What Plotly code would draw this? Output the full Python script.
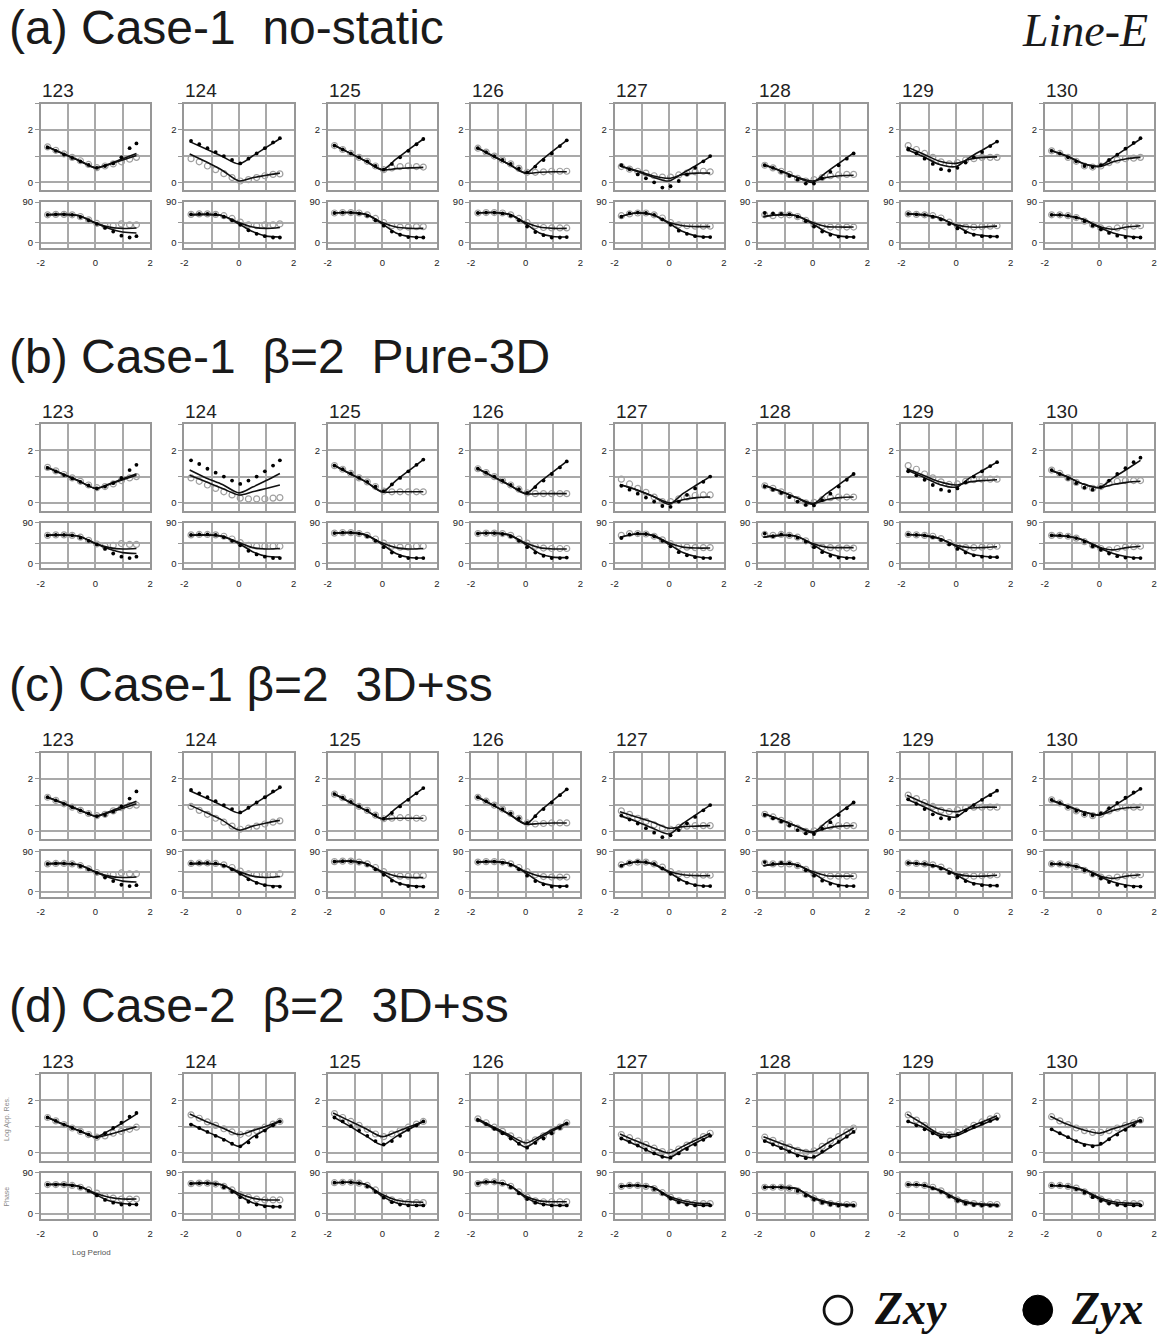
import plotly.graph_objects as go

W, H = 1165, 1336

STATIONS = ["123", "124", "125", "126", "127", "128", "129", "130"]
LOG_T_OBS = [-1.75, -1.45, -1.15, -0.85, -0.55, -0.25, 0.05, 0.35, 0.65, 0.95, 1.25, 1.5]
LOG_T_MOD = [-1.8, -1.2, -0.6, 0.0, 0.5, 1.0, 1.5]

PANEL_TITLES = [
    "(a) Case-1&nbsp; no-static",
    "(b) Case-1&nbsp; β=2&nbsp; Pure-3D",
    "(c) Case-1 β=2&nbsp; 3D+ss",
    "(d) Case-2&nbsp; β=2&nbsp; 3D+ss",
]

# ---------------- Panel (a) ----------------
A_RXY_OBS = [
    [1.35, 1.22, 1.08, 0.95, 0.82, 0.68, 0.56, 0.62, 0.70, 0.78, 0.88, 0.95],
    [0.90, 0.78, 0.62, 0.48, 0.33, 0.18, 0.05, 0.10, 0.18, 0.25, 0.30, 0.32],
    [1.40, 1.25, 1.10, 0.95, 0.80, 0.62, 0.48, 0.55, 0.60, 0.62, 0.60, 0.58],
    [1.30, 1.15, 1.00, 0.85, 0.70, 0.53, 0.38, 0.38, 0.40, 0.42, 0.42, 0.42],
    [0.60, 0.50, 0.42, 0.35, 0.25, 0.20, 0.20, 0.28, 0.35, 0.40, 0.42, 0.40],
    [0.65, 0.55, 0.42, 0.30, 0.15, 0.05, 0.10, 0.18, 0.25, 0.28, 0.30, 0.30],
    [1.40, 1.25, 1.10, 0.95, 0.78, 0.70, 0.75, 0.85, 0.90, 0.95, 0.95, 0.95],
    [1.20, 1.10, 0.95, 0.80, 0.62, 0.58, 0.62, 0.75, 0.85, 0.90, 0.92, 0.95],
]
A_RYX_OBS = [
    [1.33, 1.20, 1.06, 0.93, 0.80, 0.66, 0.55, 0.62, 0.72, 0.95, 1.30, 1.48],
    [1.58, 1.45, 1.30, 1.15, 1.00, 0.85, 0.72, 0.90, 1.10, 1.30, 1.52, 1.68],
    [1.40, 1.25, 1.10, 0.95, 0.80, 0.62, 0.48, 0.70, 0.95, 1.20, 1.45, 1.65],
    [1.30, 1.15, 1.00, 0.85, 0.70, 0.53, 0.38, 0.60, 0.85, 1.10, 1.38, 1.60],
    [0.65, 0.50, 0.30, 0.15, 0.00, -0.20, -0.15, 0.05, 0.30, 0.55, 0.80, 1.00],
    [0.65, 0.55, 0.40, 0.25, 0.10, -0.05, -0.05, 0.15, 0.40, 0.65, 0.90, 1.10],
    [1.25, 1.10, 0.90, 0.70, 0.50, 0.45, 0.55, 0.75, 0.95, 1.15, 1.38, 1.55],
    [1.20, 1.10, 0.95, 0.80, 0.62, 0.58, 0.65, 0.85, 1.05, 1.28, 1.50, 1.68],
]
A_RXY_MOD = [
    [1.37, 1.10, 0.83, 0.55, 0.68, 0.85, 1.02],
    [1.08, 0.78, 0.45, 0.05, 0.17, 0.27, 0.35],
    [1.43, 1.12, 0.80, 0.48, 0.52, 0.55, 0.57],
    [1.33, 1.00, 0.68, 0.35, 0.38, 0.40, 0.40],
    [0.62, 0.45, 0.25, 0.15, 0.30, 0.35, 0.35],
    [0.68, 0.45, 0.20, 0.05, 0.18, 0.25, 0.27],
    [1.35, 1.08, 0.80, 0.72, 0.88, 0.95, 0.97],
    [1.22, 1.00, 0.72, 0.60, 0.78, 0.90, 0.95],
]
A_RYX_MOD = [
    [1.37, 1.10, 0.83, 0.55, 0.70, 0.90, 1.10],
    [1.55, 1.27, 0.98, 0.70, 1.00, 1.33, 1.66],
    [1.43, 1.12, 0.80, 0.48, 0.88, 1.27, 1.65],
    [1.33, 1.00, 0.68, 0.35, 0.78, 1.20, 1.60],
    [0.62, 0.42, 0.20, 0.05, 0.35, 0.65, 0.98],
    [0.68, 0.45, 0.20, 0.00, 0.38, 0.75, 1.12],
    [1.25, 0.98, 0.68, 0.60, 0.95, 1.25, 1.55],
    [1.22, 1.00, 0.72, 0.62, 0.95, 1.30, 1.65],
]
A_PXY_OBS = [
    [62, 63, 63, 62, 58, 51, 43, 38, 38, 42, 40, 40],
    [63, 64, 64, 63, 60, 54, 46, 40, 38, 40, 40, 42],
    [66, 67, 67, 66, 62, 54, 45, 38, 35, 35, 36, 36],
    [66, 67, 67, 66, 62, 54, 45, 38, 34, 33, 33, 33],
    [60, 64, 66, 66, 62, 55, 45, 40, 38, 37, 37, 37],
    [62, 60, 62, 62, 58, 50, 40, 37, 35, 35, 35, 35],
    [64, 63, 62, 60, 55, 46, 38, 35, 35, 36, 37, 38],
    [62, 62, 60, 56, 48, 40, 33, 30, 33, 36, 37, 38],
]
A_PYX_OBS = [
    [62, 63, 63, 62, 57, 50, 42, 33, 25, 16, 12, 15],
    [63, 64, 64, 63, 58, 50, 40, 28, 20, 15, 12, 12],
    [66, 67, 67, 65, 60, 50, 38, 25, 18, 13, 12, 12],
    [66, 67, 67, 65, 60, 50, 36, 24, 17, 12, 12, 13],
    [58, 65, 67, 66, 62, 52, 40, 27, 20, 15, 13, 13],
    [66, 65, 64, 63, 58, 48, 36, 25, 18, 14, 13, 13],
    [64, 63, 62, 58, 52, 42, 32, 24, 18, 15, 14, 14],
    [62, 62, 60, 56, 48, 38, 30, 22, 16, 13, 12, 12],
]
A_PXY_MOD = [
    [62, 63, 60, 44, 35, 32, 33],
    [62, 63, 60, 45, 35, 32, 34],
    [66, 67, 63, 45, 35, 32, 32],
    [66, 67, 63, 45, 35, 32, 32],
    [58, 66, 62, 45, 38, 36, 36],
    [58, 62, 60, 45, 36, 35, 35],
    [64, 62, 55, 40, 35, 35, 37],
    [62, 60, 52, 36, 30, 35, 38],
]
A_PYX_MOD = [
    [62, 63, 60, 44, 32, 24, 22],
    [62, 63, 60, 42, 25, 15, 13],
    [66, 67, 63, 42, 22, 14, 12],
    [66, 67, 63, 42, 22, 14, 13],
    [58, 66, 62, 43, 25, 15, 13],
    [58, 62, 60, 42, 24, 15, 13],
    [64, 62, 55, 38, 22, 16, 14],
    [62, 60, 52, 34, 22, 15, 12],
]

# ---------------- Panel (b) ----------------
B_RXY_OBS = [
    [1.35, 1.22, 1.08, 0.95, 0.82, 0.68, 0.58, 0.62, 0.72, 0.85, 0.95, 1.00],
    [0.95, 0.82, 0.68, 0.55, 0.42, 0.30, 0.18, 0.15, 0.15, 0.15, 0.18, 0.20],
    [1.42, 1.28, 1.12, 0.95, 0.80, 0.62, 0.45, 0.42, 0.42, 0.42, 0.42, 0.42],
    [1.30, 1.15, 1.00, 0.85, 0.68, 0.52, 0.38, 0.35, 0.35, 0.35, 0.35, 0.35],
    [0.90, 0.72, 0.55, 0.40, 0.22, 0.05, 0.05, 0.15, 0.22, 0.28, 0.30, 0.30],
    [0.65, 0.55, 0.42, 0.28, 0.12, 0.00, 0.02, 0.12, 0.20, 0.22, 0.22, 0.22],
    [1.42, 1.28, 1.10, 0.95, 0.80, 0.70, 0.72, 0.82, 0.88, 0.90, 0.90, 0.90],
    [1.25, 1.12, 0.95, 0.78, 0.62, 0.55, 0.62, 0.75, 0.82, 0.85, 0.85, 0.85],
]
B_RYX_OBS = [
    [1.33, 1.20, 1.06, 0.93, 0.80, 0.66, 0.55, 0.62, 0.75, 0.95, 1.25, 1.45],
    [1.62, 1.48, 1.30, 1.15, 1.00, 0.85, 0.72, 0.85, 1.00, 1.20, 1.42, 1.62],
    [1.42, 1.28, 1.12, 0.95, 0.80, 0.62, 0.45, 0.70, 0.95, 1.20, 1.45, 1.65],
    [1.30, 1.15, 1.00, 0.85, 0.68, 0.52, 0.38, 0.60, 0.85, 1.10, 1.35, 1.58],
    [0.65, 0.50, 0.35, 0.20, 0.05, -0.12, -0.15, 0.05, 0.30, 0.55, 0.80, 1.00],
    [0.62, 0.50, 0.38, 0.22, 0.05, -0.08, -0.10, 0.10, 0.35, 0.62, 0.88, 1.10],
    [1.20, 1.05, 0.88, 0.68, 0.50, 0.45, 0.55, 0.78, 1.00, 1.20, 1.40, 1.55],
    [1.25, 1.10, 0.92, 0.75, 0.58, 0.50, 0.60, 0.85, 1.10, 1.32, 1.55, 1.72],
]
B_RXY_MOD = [
    [1.37, 1.10, 0.83, 0.55, 0.70, 0.88, 1.05],
    [1.05, 0.80, 0.55, 0.30, 0.42, 0.55, 0.68],
    [1.45, 1.12, 0.80, 0.42, 0.42, 0.42, 0.42],
    [1.33, 1.00, 0.68, 0.35, 0.35, 0.35, 0.35],
    [0.70, 0.50, 0.25, 0.00, 0.12, 0.20, 0.22],
    [0.68, 0.45, 0.20, -0.02, 0.12, 0.20, 0.22],
    [1.30, 1.05, 0.80, 0.68, 0.80, 0.85, 0.88],
    [1.25, 1.00, 0.72, 0.58, 0.70, 0.78, 0.82],
]
B_RYX_MOD = [
    [1.37, 1.10, 0.83, 0.55, 0.72, 0.92, 1.10],
    [1.25, 0.95, 0.70, 0.38, 0.60, 0.85, 1.12],
    [1.45, 1.12, 0.80, 0.42, 0.85, 1.25, 1.65],
    [1.33, 1.00, 0.68, 0.35, 0.78, 1.18, 1.58],
    [0.70, 0.50, 0.25, -0.05, 0.35, 0.68, 1.00],
    [0.68, 0.45, 0.20, -0.05, 0.35, 0.72, 1.10],
    [1.25, 0.98, 0.70, 0.60, 0.95, 1.25, 1.55],
    [1.25, 1.00, 0.72, 0.58, 0.95, 1.28, 1.62],
]
B_PXY_OBS = [
    [62, 63, 63, 62, 58, 51, 43, 38, 40, 44, 42, 42],
    [63, 64, 64, 63, 60, 54, 46, 40, 38, 38, 38, 38],
    [67, 68, 68, 66, 62, 54, 45, 38, 36, 36, 38, 38],
    [66, 67, 67, 66, 62, 54, 45, 38, 34, 33, 33, 33],
    [62, 66, 66, 65, 60, 52, 44, 38, 36, 35, 35, 35],
    [64, 62, 64, 62, 58, 50, 40, 36, 35, 34, 34, 34],
    [64, 63, 62, 60, 55, 46, 38, 35, 35, 36, 37, 38],
    [62, 62, 60, 56, 48, 40, 33, 30, 33, 36, 37, 38],
]
B_PYX_OBS = [
    [62, 63, 63, 62, 57, 50, 42, 32, 22, 15, 12, 15],
    [63, 64, 64, 63, 58, 50, 40, 28, 20, 15, 12, 12],
    [67, 68, 68, 66, 60, 50, 36, 24, 16, 12, 12, 12],
    [66, 67, 67, 65, 60, 50, 36, 24, 17, 12, 12, 13],
    [56, 64, 66, 65, 60, 50, 38, 25, 18, 14, 12, 12],
    [66, 60, 64, 62, 57, 48, 36, 25, 17, 13, 12, 12],
    [64, 63, 62, 58, 52, 42, 32, 24, 18, 15, 14, 14],
    [62, 62, 60, 56, 48, 38, 30, 22, 16, 13, 12, 12],
]
B_PXY_MOD = [
    [62, 63, 60, 44, 35, 32, 33],
    [62, 63, 60, 46, 35, 32, 33],
    [67, 68, 63, 45, 35, 32, 33],
    [66, 67, 63, 45, 35, 32, 32],
    [58, 65, 62, 45, 36, 34, 34],
    [58, 62, 60, 44, 36, 35, 35],
    [64, 62, 55, 40, 35, 35, 37],
    [62, 60, 52, 36, 30, 35, 38],
]
B_PYX_MOD = [
    [62, 63, 60, 44, 32, 24, 22],
    [62, 63, 60, 44, 26, 16, 14],
    [67, 68, 63, 42, 22, 13, 12],
    [66, 67, 63, 42, 22, 14, 13],
    [58, 65, 62, 42, 24, 15, 12],
    [58, 62, 60, 42, 24, 15, 12],
    [64, 62, 55, 38, 22, 16, 14],
    [62, 60, 52, 34, 22, 15, 12],
]

# ---------------- Panel (c) ----------------
C_RXY_OBS = [
    [1.30, 1.18, 1.05, 0.92, 0.80, 0.68, 0.60, 0.65, 0.78, 0.90, 0.98, 1.00],
    [0.95, 0.80, 0.65, 0.50, 0.35, 0.20, 0.08, 0.12, 0.20, 0.28, 0.35, 0.40],
    [1.42, 1.28, 1.12, 0.95, 0.80, 0.62, 0.48, 0.50, 0.52, 0.52, 0.50, 0.50],
    [1.30, 1.15, 1.00, 0.85, 0.68, 0.50, 0.32, 0.28, 0.30, 0.32, 0.32, 0.32],
    [0.78, 0.65, 0.50, 0.38, 0.25, 0.12, 0.08, 0.15, 0.20, 0.22, 0.22, 0.22],
    [0.65, 0.55, 0.42, 0.28, 0.12, 0.00, 0.02, 0.12, 0.20, 0.22, 0.22, 0.22],
    [1.38, 1.25, 1.10, 0.95, 0.80, 0.75, 0.82, 0.90, 0.92, 0.92, 0.92, 0.92],
    [1.20, 1.08, 0.92, 0.78, 0.65, 0.60, 0.65, 0.78, 0.88, 0.92, 0.92, 0.92],
]
C_RYX_OBS = [
    [1.30, 1.18, 1.05, 0.92, 0.80, 0.68, 0.58, 0.62, 0.75, 0.95, 1.25, 1.52],
    [1.58, 1.45, 1.30, 1.15, 1.00, 0.85, 0.72, 0.90, 1.10, 1.30, 1.52, 1.68],
    [1.42, 1.28, 1.12, 0.95, 0.80, 0.62, 0.48, 0.70, 0.95, 1.20, 1.45, 1.65],
    [1.30, 1.15, 1.00, 0.85, 0.68, 0.50, 0.32, 0.58, 0.85, 1.10, 1.38, 1.60],
    [0.60, 0.45, 0.30, 0.12, -0.05, -0.22, -0.15, 0.05, 0.30, 0.55, 0.80, 1.00],
    [0.62, 0.50, 0.38, 0.22, 0.05, -0.08, -0.10, 0.10, 0.35, 0.62, 0.88, 1.10],
    [1.22, 1.05, 0.85, 0.65, 0.50, 0.48, 0.60, 0.80, 1.00, 1.20, 1.38, 1.55],
    [1.20, 1.08, 0.92, 0.78, 0.65, 0.60, 0.68, 0.88, 1.08, 1.28, 1.48, 1.62],
]
C_RXY_MOD = [
    [1.32, 1.08, 0.82, 0.58, 0.72, 0.88, 1.05],
    [1.00, 0.72, 0.42, 0.05, 0.20, 0.32, 0.42],
    [1.45, 1.12, 0.80, 0.48, 0.50, 0.50, 0.50],
    [1.33, 1.00, 0.65, 0.28, 0.30, 0.32, 0.32],
    [0.75, 0.55, 0.35, 0.12, 0.18, 0.20, 0.22],
    [0.68, 0.45, 0.20, -0.02, 0.12, 0.20, 0.22],
    [1.38, 1.10, 0.85, 0.75, 0.88, 0.92, 0.92],
    [1.20, 0.98, 0.75, 0.62, 0.80, 0.90, 0.92],
]
C_RYX_MOD = [
    [1.32, 1.08, 0.82, 0.58, 0.75, 0.95, 1.15],
    [1.55, 1.27, 0.98, 0.70, 1.00, 1.33, 1.66],
    [1.45, 1.12, 0.80, 0.48, 0.88, 1.27, 1.65],
    [1.33, 1.00, 0.65, 0.28, 0.75, 1.18, 1.60],
    [0.60, 0.38, 0.12, -0.10, 0.30, 0.65, 1.00],
    [0.68, 0.45, 0.20, -0.05, 0.35, 0.72, 1.10],
    [1.22, 0.95, 0.65, 0.55, 0.92, 1.25, 1.55],
    [1.20, 0.98, 0.75, 0.63, 0.95, 1.28, 1.62],
]
C_PXY_OBS = [
    [62, 63, 63, 62, 58, 51, 43, 38, 38, 42, 40, 40],
    [63, 64, 64, 63, 60, 54, 46, 40, 38, 38, 38, 40],
    [67, 68, 68, 66, 62, 54, 45, 38, 35, 35, 36, 36],
    [66, 67, 67, 66, 62, 54, 45, 38, 34, 33, 33, 33],
    [60, 64, 66, 66, 62, 55, 45, 40, 38, 37, 37, 37],
    [64, 62, 62, 62, 58, 50, 40, 37, 35, 35, 35, 35],
    [64, 63, 62, 60, 55, 46, 38, 35, 35, 36, 37, 38],
    [62, 62, 60, 56, 48, 40, 33, 30, 33, 36, 37, 38],
]
C_PYX_OBS = [
    [62, 63, 63, 62, 57, 50, 42, 32, 24, 16, 13, 15],
    [63, 64, 64, 63, 58, 50, 40, 28, 20, 15, 12, 12],
    [67, 68, 68, 65, 60, 50, 38, 25, 18, 13, 12, 12],
    [66, 67, 67, 65, 60, 50, 36, 24, 17, 12, 12, 13],
    [58, 65, 67, 66, 62, 52, 40, 27, 20, 15, 13, 13],
    [66, 62, 64, 63, 58, 48, 36, 25, 18, 14, 13, 13],
    [64, 63, 62, 58, 52, 42, 32, 24, 18, 15, 14, 14],
    [62, 62, 60, 56, 48, 38, 30, 22, 16, 13, 12, 12],
]
C_PXY_MOD = [
    [62, 63, 60, 44, 35, 32, 33],
    [62, 63, 60, 45, 35, 32, 34],
    [67, 68, 63, 45, 35, 32, 32],
    [66, 67, 63, 45, 35, 32, 32],
    [58, 66, 62, 45, 38, 36, 36],
    [58, 62, 60, 45, 36, 35, 35],
    [64, 62, 55, 40, 35, 35, 37],
    [62, 60, 52, 36, 30, 35, 38],
]
C_PYX_MOD = [
    [62, 63, 60, 44, 32, 24, 22],
    [62, 63, 60, 42, 25, 15, 13],
    [67, 68, 63, 42, 22, 14, 12],
    [66, 67, 63, 42, 22, 14, 13],
    [58, 66, 62, 43, 25, 15, 13],
    [58, 62, 60, 42, 24, 15, 13],
    [64, 62, 55, 38, 22, 16, 14],
    [62, 60, 52, 34, 22, 15, 12],
]

# ---------------- Panel (d) ----------------
D_RXY_OBS = [
    [1.35, 1.22, 1.08, 0.95, 0.82, 0.70, 0.60, 0.65, 0.75, 0.82, 0.90, 0.98],
    [1.45, 1.32, 1.18, 1.05, 0.92, 0.80, 0.70, 0.75, 0.85, 0.98, 1.10, 1.20],
    [1.50, 1.35, 1.20, 1.05, 0.90, 0.72, 0.62, 0.72, 0.85, 0.98, 1.10, 1.20],
    [1.30, 1.15, 0.98, 0.82, 0.65, 0.48, 0.38, 0.50, 0.65, 0.80, 0.98, 1.15],
    [0.70, 0.58, 0.45, 0.32, 0.18, 0.05, 0.02, 0.15, 0.30, 0.45, 0.62, 0.75],
    [0.60, 0.48, 0.35, 0.22, 0.10, 0.02, 0.08, 0.25, 0.45, 0.62, 0.80, 0.95],
    [1.45, 1.25, 1.05, 0.88, 0.70, 0.68, 0.78, 0.92, 1.05, 1.18, 1.30, 1.40],
    [1.38, 1.22, 1.08, 0.95, 0.85, 0.78, 0.78, 0.85, 0.95, 1.05, 1.15, 1.25],
]
D_RYX_OBS = [
    [1.35, 1.22, 1.08, 0.95, 0.82, 0.70, 0.60, 0.75, 0.95, 1.15, 1.38, 1.52],
    [1.08, 0.95, 0.80, 0.65, 0.50, 0.35, 0.25, 0.40, 0.62, 0.85, 1.05, 1.20],
    [1.35, 1.20, 1.02, 0.85, 0.65, 0.45, 0.32, 0.45, 0.65, 0.88, 1.05, 1.20],
    [1.25, 1.10, 0.92, 0.75, 0.55, 0.35, 0.20, 0.38, 0.55, 0.75, 0.95, 1.12],
    [0.55, 0.42, 0.28, 0.12, -0.02, -0.15, -0.18, -0.02, 0.15, 0.32, 0.50, 0.65],
    [0.45, 0.32, 0.18, 0.05, -0.10, -0.20, -0.15, 0.05, 0.25, 0.42, 0.62, 0.80],
    [1.20, 1.05, 0.90, 0.75, 0.60, 0.62, 0.72, 0.85, 1.00, 1.12, 1.22, 1.30],
    [0.90, 0.75, 0.60, 0.45, 0.30, 0.25, 0.35, 0.52, 0.70, 0.88, 1.05, 1.22],
]
D_RXY_MOD = [
    [1.38, 1.10, 0.85, 0.60, 0.70, 0.85, 1.00],
    [1.48, 1.20, 0.95, 0.70, 0.85, 1.02, 1.22],
    [1.52, 1.22, 0.92, 0.62, 0.80, 1.00, 1.20],
    [1.32, 1.00, 0.68, 0.38, 0.62, 0.90, 1.15],
    [0.72, 0.45, 0.20, 0.00, 0.25, 0.50, 0.75],
    [0.62, 0.38, 0.15, 0.05, 0.35, 0.65, 0.95],
    [1.48, 1.10, 0.72, 0.72, 0.98, 1.20, 1.42],
    [1.40, 1.10, 0.88, 0.75, 0.92, 1.08, 1.25],
]
D_RYX_MOD = [
    [1.38, 1.10, 0.85, 0.60, 0.85, 1.15, 1.48],
    [1.12, 0.82, 0.55, 0.25, 0.60, 0.90, 1.22],
    [1.38, 1.02, 0.65, 0.30, 0.62, 0.92, 1.20],
    [1.28, 0.95, 0.62, 0.22, 0.55, 0.85, 1.12],
    [0.58, 0.30, 0.00, -0.18, 0.12, 0.40, 0.65],
    [0.48, 0.22, -0.05, -0.18, 0.12, 0.45, 0.80],
    [1.22, 0.98, 0.65, 0.65, 0.88, 1.10, 1.32],
    [0.92, 0.62, 0.35, 0.30, 0.65, 0.95, 1.25],
]
D_PXY_OBS = [
    [64, 64, 64, 62, 58, 52, 45, 38, 34, 32, 32, 32],
    [66, 67, 67, 65, 60, 52, 42, 36, 32, 30, 30, 30],
    [68, 69, 69, 67, 62, 52, 40, 30, 26, 24, 24, 24],
    [66, 70, 70, 67, 60, 48, 36, 28, 26, 26, 26, 26],
    [60, 62, 62, 60, 55, 46, 36, 28, 24, 22, 22, 22],
    [58, 58, 58, 56, 50, 42, 33, 26, 22, 20, 20, 20],
    [64, 64, 62, 58, 50, 40, 30, 24, 22, 20, 20, 20],
    [62, 62, 60, 56, 48, 40, 32, 26, 24, 22, 22, 22],
]
D_PYX_OBS = [
    [64, 64, 64, 62, 57, 50, 40, 30, 24, 20, 20, 20],
    [66, 67, 67, 65, 58, 48, 36, 26, 20, 16, 15, 15],
    [68, 69, 69, 67, 60, 48, 35, 25, 20, 18, 18, 18],
    [66, 70, 70, 66, 58, 45, 32, 24, 20, 18, 18, 18],
    [60, 62, 62, 60, 54, 44, 33, 25, 20, 18, 18, 18],
    [58, 58, 58, 56, 50, 40, 31, 24, 20, 18, 18, 18],
    [64, 64, 62, 56, 48, 38, 28, 22, 19, 18, 18, 18],
    [62, 62, 60, 54, 46, 36, 28, 22, 19, 18, 18, 18],
]
D_PXY_MOD = [
    [64, 64, 60, 45, 36, 32, 32],
    [66, 67, 63, 44, 34, 30, 30],
    [68, 69, 64, 42, 30, 26, 25],
    [68, 69, 62, 38, 28, 26, 26],
    [60, 62, 58, 38, 28, 23, 22],
    [58, 58, 55, 36, 26, 21, 20],
    [64, 62, 52, 34, 24, 21, 20],
    [62, 60, 52, 35, 26, 23, 22],
]
D_PYX_MOD = [
    [64, 64, 60, 42, 28, 22, 20],
    [66, 67, 63, 40, 24, 17, 15],
    [68, 69, 64, 38, 24, 19, 18],
    [68, 69, 62, 35, 22, 18, 18],
    [60, 62, 58, 35, 24, 19, 18],
    [58, 58, 55, 34, 24, 19, 18],
    [64, 62, 50, 31, 22, 19, 18],
    [62, 60, 50, 32, 22, 19, 18],
]

PANELS = [
    (A_RXY_OBS, A_RYX_OBS, A_RXY_MOD, A_RYX_MOD, A_PXY_OBS, A_PYX_OBS, A_PXY_MOD, A_PYX_MOD),
    (B_RXY_OBS, B_RYX_OBS, B_RXY_MOD, B_RYX_MOD, B_PXY_OBS, B_PYX_OBS, B_PXY_MOD, B_PYX_MOD),
    (C_RXY_OBS, C_RYX_OBS, C_RXY_MOD, C_RYX_MOD, C_PXY_OBS, C_PYX_OBS, C_PXY_MOD, C_PYX_MOD),
    (D_RXY_OBS, D_RYX_OBS, D_RXY_MOD, D_RYX_MOD, D_PXY_OBS, D_PYX_OBS, D_PXY_MOD, D_PYX_MOD),
]

# ---------------- layout geometry (pixels) ----------------
PANEL_OFF = [0, 322, 652, 975]
TITLE_Y = [22, 352, 682, 1004]
COL_LEFT0, COL_STEP, BOX_W = 37, 144.3, 110
RHO_TOP, RHO_BOT = 98, 185
PH_TOP, PH_BOT = 197, 243

GRID = "#a9a9a9"
FRAME = "#979797"
TICKFONT = dict(family="Arial, Liberation Sans, sans-serif", size=9.5, color="#222")


def px(x):
    return x / W


def py(y):
    return 1 - y / H


fig = go.Figure()
layout = {}
annotations = []
n = 0
for p, data in enumerate(PANELS):
    rxo, ryo, rxm, rym, pxo, pyo, pxm, pym = data
    off = PANEL_OFF[p]
    for c in range(8):
        left = COL_LEFT0 + COL_STEP * c
        xd = [px(left), px(left + BOX_W)]
        n += 1
        nr = n
        n += 1
        nph = n
        for ax_id, ydom, kind in ((nr, [py(RHO_BOT + off), py(RHO_TOP + off)], "rho"),
                                  (nph, [py(PH_BOT + off), py(PH_TOP + off)], "ph")):
            xa = dict(domain=xd, range=[-2, 2], anchor=f"y{ax_id}",
                      tickvals=[-2, -1, 0, 1, 2], ticktext=["-2", "", "0", "", "2"],
                      showticklabels=(kind == "ph"), ticks="outside", ticklen=5,
                      tickcolor="rgba(0,0,0,0)", tickfont=TICKFONT,
                      showgrid=True, gridcolor=GRID, gridwidth=1.5,
                      showline=True, mirror=True, linecolor=FRAME, linewidth=1.5,
                      zeroline=False, fixedrange=True)
            if kind == "rho":
                ya = dict(domain=ydom, range=[-0.3, 3.0], anchor=f"x{ax_id}",
                          tickvals=[0, 1, 2, 3], ticktext=["0", "", "2", ""])
            else:
                ya = dict(domain=ydom, range=[-11, 90], anchor=f"x{ax_id}",
                          tickvals=[0, 45, 90], ticktext=["0", "", "90"])
            ya.update(ticks="outside", ticklen=4, tickcolor=FRAME, tickwidth=1.3,
                      tickfont=TICKFONT, showgrid=True, gridcolor=GRID, gridwidth=1.5,
                      showline=True, mirror=True, linecolor=FRAME, linewidth=1.5,
                      zeroline=False, fixedrange=True)
            layout[f"xaxis{ax_id}"] = xa
            layout[f"yaxis{ax_id}"] = ya

        for ax_id, xo, yo, xm, ym in ((nr, rxo[c], ryo[c], rxm[c], rym[c]),
                                      (nph, pxo[c], pyo[c], pxm[c], pym[c])):
            axs = dict(xaxis=f"x{ax_id}", yaxis=f"y{ax_id}")
            fig.add_trace(go.Scatter(x=LOG_T_OBS, y=xo, mode="markers",
                                     marker=dict(symbol="circle-open", size=6, color="#a0a0a0",
                                                 line=dict(width=1.2, color="#a0a0a0")),
                                     showlegend=False, hoverinfo="skip", **axs))
            fig.add_trace(go.Scatter(x=LOG_T_MOD, y=xm, mode="lines",
                                     line=dict(color="#111", width=1.6, shape="spline", smoothing=0.8),
                                     showlegend=False, hoverinfo="skip", **axs))
            fig.add_trace(go.Scatter(x=LOG_T_MOD, y=ym, mode="lines",
                                     line=dict(color="#111", width=1.6, shape="spline", smoothing=0.8),
                                     showlegend=False, hoverinfo="skip", **axs))
            fig.add_trace(go.Scatter(x=LOG_T_OBS, y=yo, mode="markers",
                                     marker=dict(symbol="circle", size=3.8, color="#000"),
                                     showlegend=False, hoverinfo="skip", **axs))

        annotations.append(dict(text=STATIONS[c], x=px(left - 1), y=py(85 + off),
                                xref="paper", yref="paper", xanchor="left", yanchor="middle",
                                showarrow=False,
                                font=dict(family="Arial, Liberation Sans, sans-serif", size=19, color="#222")))

    annotations.append(dict(text=PANEL_TITLES[p], x=px(3), y=py(TITLE_Y[p]),
                            xref="paper", yref="paper", xanchor="left", yanchor="middle",
                            showarrow=False,
                            font=dict(family="Arial, Liberation Sans, sans-serif", size=48, color="#1a1a1a")))

annotations.append(dict(text="<i>Line-E</i>", x=px(1153), y=py(25), xref="paper", yref="paper",
                        xanchor="right", yanchor="middle", showarrow=False,
                        font=dict(family="Liberation Serif, Times New Roman, serif", size=46, color="#1a1a1a")))
annotations.append(dict(text="Log Period", x=px(88), y=py(1252), xref="paper", yref="paper",
                        xanchor="center", yanchor="middle", showarrow=False,
                        font=dict(family="Arial, Liberation Sans, sans-serif", size=8, color="#555")))
annotations.append(dict(text="Log App. Res.", x=px(3), y=py(1118), xref="paper", yref="paper",
                        xanchor="center", yanchor="middle", showarrow=False, textangle=-90,
                        font=dict(family="Arial, Liberation Sans, sans-serif", size=7, color="#888")))
annotations.append(dict(text="Phase", x=px(3), y=py(1196), xref="paper", yref="paper",
                        xanchor="center", yanchor="middle", showarrow=False, textangle=-90,
                        font=dict(family="Arial, Liberation Sans, sans-serif", size=7, color="#888")))

# bottom legend
LEG_FONT = dict(family="Liberation Serif, Times New Roman, serif", size=46, color="#111")
annotations.append(dict(text="<b><i>Zxy</i></b>", x=px(873), y=py(1336), xref="paper", yref="paper",
                        xanchor="left", yanchor="bottom", showarrow=False, font=LEG_FONT))
annotations.append(dict(text="<b><i>Zyx</i></b>", x=px(1071), y=py(1336), xref="paper", yref="paper",
                        xanchor="left", yanchor="bottom", showarrow=False, font=LEG_FONT))
shapes = [
    dict(type="circle", xref="paper", yref="paper", x0=px(825), x1=px(853), y0=py(1324), y1=py(1296),
         line=dict(color="#111", width=2.8), fillcolor="rgba(0,0,0,0)"),
    dict(type="circle", xref="paper", yref="paper", x0=px(1025), x1=px(1055), y0=py(1325), y1=py(1295),
         line=dict(color="#000", width=1), fillcolor="#000"),
]

fig.update_layout(
    width=W, height=H,
    margin=dict(l=0, r=0, t=0, b=0),
    paper_bgcolor="white", plot_bgcolor="white",
    showlegend=False,
    annotations=annotations,
    shapes=shapes,
    **layout,
)

fig.write_html("out.html")
